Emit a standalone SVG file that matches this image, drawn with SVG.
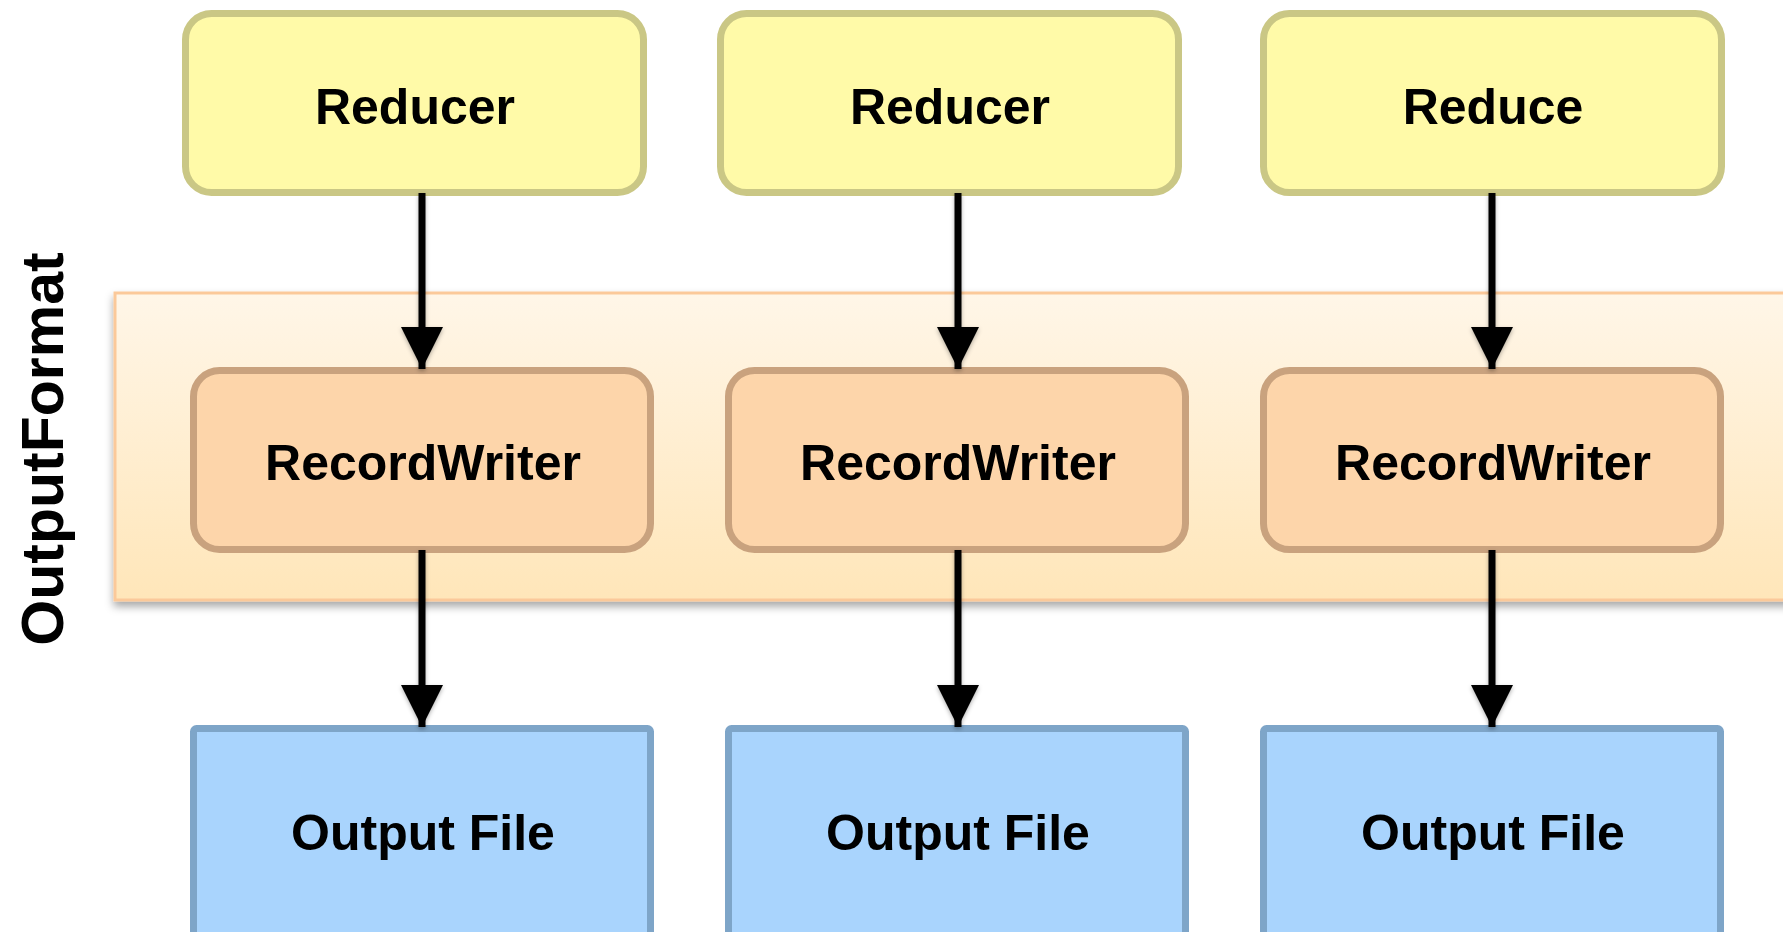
<svg xmlns="http://www.w3.org/2000/svg" width="1783" height="932" viewBox="0 0 1783 932">
<defs>
<linearGradient id="bandGrad" x1="0" y1="0" x2="0" y2="1">
<stop offset="0" stop-color="#fff6e8"/>
<stop offset="1" stop-color="#ffe6b9"/>
</linearGradient>
<filter id="shadow" x="-5%" y="-10%" width="110%" height="130%">
<feDropShadow dx="0" dy="5" stdDeviation="4" flood-color="#000" flood-opacity="0.35"/>
</filter>
<filter id="ashadow" x="-50%" y="-10%" width="200%" height="120%">
<feDropShadow dx="0" dy="2" stdDeviation="2" flood-color="#000" flood-opacity="0.3"/>
</filter>
<marker id="arrow" markerUnits="userSpaceOnUse" markerWidth="44" markerHeight="44" refX="42" refY="21" orient="auto">
<path d="M0,0 L42,21 L0,42 Z" fill="#000"/>
</marker>
</defs>
<style>
.lbl{font-family:"Liberation Sans",Arial,Helvetica,sans-serif;font-weight:bold;font-size:50px;fill:#000;text-anchor:middle}
.red{fill:#fffaa8;stroke:#cac785;stroke-width:7}
.rw{fill:#fdd5aa;stroke:#c9a27e;stroke-width:7}
.of{fill:#a9d4fd;stroke:#7ea5c8;stroke-width:7}
.conn{stroke:#000;stroke-width:7;fill:none;marker-end:url(#arrow)}
</style>
<rect width="1783" height="932" fill="#fff"/>
<g id="outputformat">
<rect x="115" y="293" width="1700" height="307" fill="url(#bandGrad)" stroke="#fbc99a" stroke-width="3" filter="url(#shadow)"/>
<text class="lbl" style="font-size:59px" transform="translate(63,449) rotate(-90)" x="0" y="0">OutputFormat</text>
</g>
<g id="reducer1"><rect class="red" x="185.5" y="13.5" width="458" height="179" rx="26"/><text class="lbl" x="415" y="124">Reducer</text></g>
<g id="reducer2"><rect class="red" x="720.5" y="13.5" width="458" height="179" rx="26"/><text class="lbl" x="950" y="124">Reducer</text></g>
<g id="reducer3"><rect class="red" x="1263.5" y="13.5" width="458" height="179" rx="26"/><text class="lbl" x="1493" y="124">Reduce</text></g>
<g id="recordwriter1"><rect class="rw" x="193.5" y="370.5" width="457" height="179" rx="26"/><text class="lbl" x="423" y="480">RecordWriter</text></g>
<g id="recordwriter2"><rect class="rw" x="728.5" y="370.5" width="457" height="179" rx="26"/><text class="lbl" x="958" y="480">RecordWriter</text></g>
<g id="recordwriter3"><rect class="rw" x="1263.5" y="370.5" width="457" height="179" rx="26"/><text class="lbl" x="1493" y="480">RecordWriter</text></g>
<g id="outputfile1"><rect class="of" x="193.5" y="728.5" width="457" height="220" rx="3"/><text class="lbl" x="423" y="850">Output File</text></g>
<g id="outputfile2"><rect class="of" x="728.5" y="728.5" width="457" height="220" rx="3"/><text class="lbl" x="958" y="850">Output File</text></g>
<g id="outputfile3"><rect class="of" x="1263.5" y="728.5" width="457" height="220" rx="3"/><text class="lbl" x="1493" y="850">Output File</text></g>
<g id="connectors" filter="url(#ashadow)">
<line class="conn" x1="422" y1="193" x2="422" y2="369"/>
<line class="conn" x1="958" y1="193" x2="958" y2="369"/>
<line class="conn" x1="1492" y1="193" x2="1492" y2="369"/>
<line class="conn" x1="422" y1="550" x2="422" y2="727"/>
<line class="conn" x1="958" y1="550" x2="958" y2="727"/>
<line class="conn" x1="1492" y1="550" x2="1492" y2="727"/>
</g>
</svg>
